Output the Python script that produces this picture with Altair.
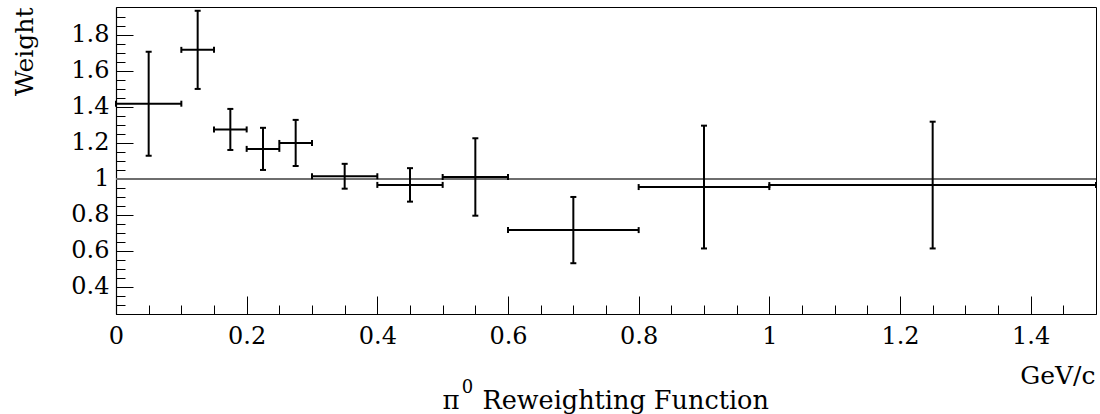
import altair as alt
import pandas as pd

# ---- data ----
bin_lo = [0.00, 0.10, 0.15, 0.20, 0.25, 0.30, 0.40, 0.50, 0.60, 0.80, 1.00]
bin_hi = [0.10, 0.15, 0.20, 0.25, 0.30, 0.40, 0.50, 0.60, 0.80, 1.00, 1.50]
bin_center = [0.05, 0.125, 0.175, 0.225, 0.275, 0.35, 0.45, 0.55, 0.70, 0.90, 1.25]
weight = [1.418, 1.717, 1.275, 1.167, 1.200, 1.015, 0.967, 1.011, 0.716, 0.955, 0.966]
weight_err = [0.289, 0.217, 0.114, 0.117, 0.128, 0.069, 0.093, 0.215, 0.184, 0.341, 0.352]

ref_value = [1.0]
x_range = [0.0, 1.5]
y_range = [0.25, 1.955]

x_labels = [0, 0.2, 0.4, 0.6, 0.8, 1.0, 1.2, 1.4]
x_minor = [0.05, 0.10, 0.15, 0.25, 0.30, 0.35, 0.45, 0.50, 0.55, 0.65, 0.70, 0.75,
           0.85, 0.90, 0.95, 1.05, 1.10, 1.15, 1.25, 1.30, 1.35, 1.45]
y_labels = [0.4, 0.6, 0.8, 1.0, 1.2, 1.4, 1.6, 1.8]
y_minor = [0.30, 0.35, 0.45, 0.50, 0.55, 0.65, 0.70, 0.75, 0.85, 0.90, 0.95,
           1.05, 1.10, 1.15, 1.25, 1.30, 1.35, 1.45, 1.50, 1.55, 1.65, 1.70,
           1.75, 1.85, 1.90]

x_title = "GeV/c"
y_title = "Weight"
title_symbol = "π"                      # main title: π⁰ Reweighting Function
title_sup = "0"
title_text = "Reweighting Function"

# ---- tables ----
df = pd.DataFrame({"lo": bin_lo, "hi": bin_hi, "c": bin_center,
                   "w": weight, "e": weight_err})
df["w_lo"] = df["w"] - df["e"]
df["w_hi"] = df["w"] + df["e"]

hcaps = pd.DataFrame({"x": bin_lo + bin_hi, "y": weight + weight})
vcaps = pd.DataFrame({"x": bin_center + bin_center,
                      "y": list(df["w_lo"]) + list(df["w_hi"])})
ref = pd.DataFrame({"x0": [x_range[0]], "x1": [x_range[1]], "y": ref_value})

W, H = 980, 307
FONT = "DejaVu Serif"
xs = alt.Scale(domain=x_range, nice=False, zero=False)
ys = alt.Scale(domain=y_range, nice=False, zero=False)


def title_axis(text, size, tx, ty, align):
    return alt.Axis(orient="bottom", values=x_labels, grid=False,
                    ticks=False, labels=False, domain=False,
                    title=text, titleFont=FONT, titleFontSize=size,
                    titleFontWeight="normal", titleColor="black",
                    titleX=tx, titleY=ty, titleAlign=align,
                    titleBaseline="alphabetic", titleAngle=0)


x_label_axis = alt.Axis(orient="bottom", values=x_labels, format="~g", grid=False,
                        labelFont=FONT, labelFontSize=24, labelColor="black",
                        labelPadding=10, labelFlush=False, labelOverlap=False,
                        ticks=False, domain=True, domainColor="black", domainWidth=1.2,
                        title=x_title, titleFont=FONT, titleFontSize=25,
                        titleFontWeight="normal", titleColor="black",
                        titleX=979, titleY=69, titleAlign="right",
                        titleBaseline="alphabetic", titleAngle=0)
x_major_axis = alt.Axis(orient="top", offset=-H, values=x_labels, grid=False,
                        ticks=True, tickSize=18, tickColor="black", tickWidth=1,
                        labels=False, domain=False, title="")
x_minor_axis = alt.Axis(orient="top", offset=-H, values=x_minor, grid=False,
                        ticks=True, tickSize=9, tickColor="black", tickWidth=1,
                        labels=False, domain=False, title="")
x_sym_axis = title_axis(title_symbol, 26, 326, 94, "left")
x_sup_axis = title_axis(title_sup, 18, 351, 78, "center")
x_text_axis = title_axis(title_text, 25.5, 366, 94, "left")

y_label_axis = alt.Axis(orient="left", values=y_labels, format="~g", grid=False,
                        labelFont=FONT, labelFontSize=24, labelColor="black",
                        labelPadding=7, labelFlush=False, labelOverlap=False,
                        ticks=False, domain=True, domainColor="black", domainWidth=1.2,
                        title=y_title, titleFont=FONT, titleFontSize=25,
                        titleFontWeight="normal", titleColor="black",
                        titleX=-84, titleY=0, titleAngle=270, titleAlign="right",
                        titleBaseline="alphabetic")
y_major_axis = alt.Axis(orient="right", offset=-W, values=y_labels, grid=False,
                        ticks=True, tickSize=17, tickColor="black", tickWidth=1,
                        labels=False, domain=False, title="")
y_minor_axis = alt.Axis(orient="right", offset=-W, values=y_minor, grid=False,
                        ticks=True, tickSize=9, tickColor="black", tickWidth=1,
                        labels=False, domain=False, title="")

ref_line = alt.Chart(ref).mark_rule(color="#6e6e6e", strokeWidth=2).encode(
    x=alt.X("x0:Q", scale=xs, axis=x_label_axis),
    x2="x1:Q",
    y=alt.Y("y:Q", scale=ys, axis=y_label_axis),
)

# invisible carrier layer for one more bottom title piece
title_carrier = alt.Chart(ref).mark_rule(opacity=0).encode(
    x=alt.X("x0:Q", scale=xs, axis=x_text_axis),
    y=alt.Y("y:Q", scale=ys, axis=None),
)

hbars = alt.Chart(df).mark_rule(color="black", strokeWidth=2).encode(
    x=alt.X("lo:Q", scale=xs, axis=x_major_axis),
    x2="hi:Q",
    y=alt.Y("w:Q", scale=ys, axis=y_major_axis),
)

vbars = alt.Chart(df).mark_rule(color="black", strokeWidth=2).encode(
    x=alt.X("c:Q", scale=xs, axis=x_minor_axis),
    y=alt.Y("w_lo:Q", scale=ys, axis=y_minor_axis),
    y2="w_hi:Q",
)

hcap_marks = alt.Chart(hcaps).mark_tick(orient="vertical", size=6, thickness=2,
                                        color="black", opacity=1).encode(
    x=alt.X("x:Q", scale=xs, axis=x_sym_axis),
    y=alt.Y("y:Q", scale=ys, axis=None),
)

vcap_marks = alt.Chart(vcaps).mark_tick(orient="horizontal", size=6, thickness=2,
                                        color="black", opacity=1).encode(
    x=alt.X("x:Q", scale=xs, axis=x_sup_axis),
    y=alt.Y("y:Q", scale=ys, axis=None),
)

chart = (
    alt.layer(ref_line, title_carrier, hbars, vbars, hcap_marks, vcap_marks)
    .resolve_axis(x="independent", y="independent")
    .properties(width=W, height=H,
                autosize=alt.AutoSizeParams(type="none"),
                padding={"left": 116, "top": 7, "right": 4, "bottom": 100},
                background="white")
    .configure_view(stroke="black", strokeWidth=1)
)

chart.save("out.html", embed_options={"renderer": "svg", "actions": False})
